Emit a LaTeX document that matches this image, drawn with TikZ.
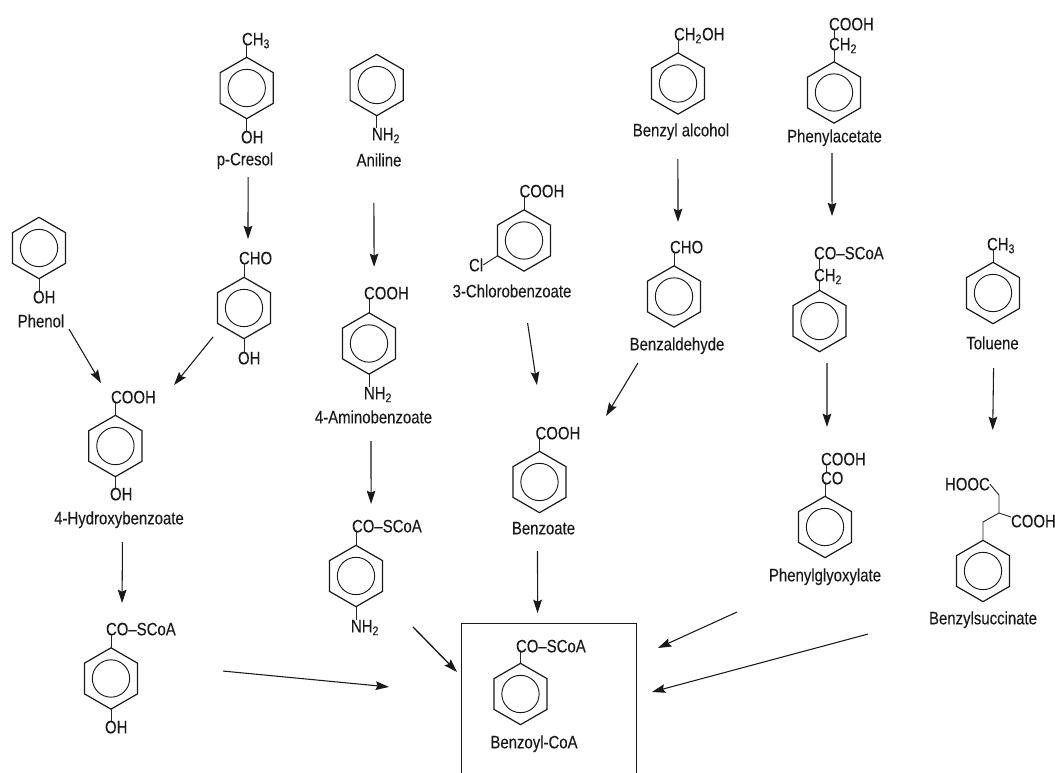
\documentclass[tikz,border=0pt]{standalone}
\usepackage{fontspec}
\setmainfont[FakeStretch=0.83, FakeBold=0.12]{Liberation Sans}
\usetikzlibrary{shapes.geometric, arrows.meta}

\begin{document}
\begin{tikzpicture}[
    x=0.75pt, y=-0.75pt,
    % Node styles
    ring/.style={
        regular polygon, regular polygon sides=6, shape border rotate=30,
        draw=black!90, line width=0.9pt, minimum size=46pt,
        inner sep=0pt, outer sep=0pt,
        path picture={\draw[black!90, line width=0.7pt] (path picture bounding box.center) circle[radius=14pt];}
    },
    group/.style={
        anchor=west, inner sep=0pt, outer sep=0pt, text height=9.5pt, text depth=0pt,
        font=\fontsize{13.5}{15}\selectfont, black!90
    },
    caption/.style={
        inner sep=0pt, outer sep=0pt, text height=9.5pt, text depth=0pt,
        font=\fontsize{13.5}{15}\selectfont, black!90
    },
    bond/.style={black!85, line width=0.7pt},
    arrow/.style={-{Stealth[length=10pt, width=6.5pt, inset=1.5pt]}, black!90, line width=0.8pt},
    frame/.style={black!90, line width=0.6pt}
]

\useasboundingbox (0,0) rectangle (1055,773);

% ============================================================
% Substrates and intermediates, column by column
% ============================================================

% -- Phenol --
\node[ring] (phenol) at (39,248) {};
\node[group] (phenol_oh) at (33,297) {OH};
\node[caption] (phenol_name) at (41,321) {Phenol};

% -- p-Cresol --
\node[ring] (cresol) at (246.7,88) {};
\node[group] (cresol_ch3) at (242,39) {CH\textsubscript{3}};
\node[group] (cresol_oh) at (241,137) {OH};
\node[caption] (cresol_name) at (245,159) {p-Cresol};

\node[ring] (hbald) at (244,308) {};
\node[group] (hbald_cho) at (239,258) {CHO};
\node[group] (hbald_oh) at (238,358) {OH};

% -- 4-Hydroxybenzoate --
\node[ring] (hbenz) at (115.4,446) {};
\node[group] (hbenz_cooh) at (111,397) {COOH};
\node[group] (hbenz_oh) at (110,494) {OH};
\node[caption] (hbenz_name) at (119,518) {4-Hydroxybenzoate};

\node[ring] (hbcoa) at (111,678.5) {};
\node[group] (hbcoa_co) at (106,629) {CO--SCoA};
\node[group] (hbcoa_oh) at (105,727) {OH};

% -- Aniline --
\node[ring] (aniline) at (376.7,85) {};
\node[group] (aniline_nh2) at (372,134) {NH\textsubscript{2}};
\node[caption] (aniline_name) at (379,160) {Aniline};

\node[ring] (abenz) at (369,343.5) {};
\node[group] (abenz_cooh) at (364,293) {COOH};
\node[group] (abenz_nh2) at (364,393) {NH\textsubscript{2}};
\node[caption] (abenz_name) at (373.5,417) {4-Aminobenzoate};

\node[ring] (abcoa) at (356,576) {};
\node[group] (abcoa_co) at (352,526) {CO--SCoA};
\node[group] (abcoa_nh2) at (351,626) {NH\textsubscript{2}};

% -- 3-Chlorobenzoate --
\node[ring] (chloro) at (524,240.5) {};
\node[group] (chloro_cooh) at (519.5,191) {COOH};
\node[group] (chloro_cl) at (469,265) {Cl};
\node[caption] (chloro_name) at (512,291) {3-Chlorobenzoate};

% -- Benzoate --
\node[ring] (benzoate) at (539.5,482) {};
\node[group] (benzoate_cooh) at (535.5,433) {COOH};
\node[caption] (benzoate_name) at (543.5,528) {Benzoate};

% -- Benzyl alcohol --
\node[ring] (balc) at (678,83.5) {};
\node[group] (balc_ch2oh) at (674,34) {CH\textsubscript{2}OH};
\node[caption] (balc_name) at (681,130) {Benzyl alcohol};

\node[ring] (bald) at (674,296.5) {};
\node[group] (bald_cho) at (670,247) {CHO};
\node[caption] (bald_name) at (677,344) {Benzaldehyde};

% -- Phenylacetate --
\node[ring] (pacet) at (834,92.5) {};
\node[group] (pacet_cooh) at (829,24) {COOH};
\node[group] (pacet_ch2) at (829,44) {CH\textsubscript{2}};
\node[caption] (pacet_name) at (834.5,136) {Phenylacetate};

\node[ring] (pacoa) at (819.5,321) {};
\node[group] (pacoa_co) at (814,253) {CO--SCoA};
\node[group] (pacoa_ch2) at (814,275) {CH\textsubscript{2}};

\node[ring] (pglyox) at (825,527) {};
\node[group] (pglyox_cooh) at (821,459) {COOH};
\node[group] (pglyox_co) at (821,478) {CO};
\node[caption] (pglyox_name) at (825,575) {Phenylglyoxylate};

% -- Toluene --
\node[ring] (toluene) at (993,293) {};
\node[group] (toluene_ch3) at (987,244) {CH\textsubscript{3}};
\node[caption] (toluene_name) at (992.5,343) {Toluene};

\node[ring] (bsucc) at (983,571) {};
\node[group] (bsucc_hooc) at (945,484) {HOOC};
\node[group] (bsucc_cooh) at (1011,521) {COOH};
\node[caption] (bsucc_name) at (983,618) {Benzylsuccinate};
\coordinate (bsucc_c1) at (999,495);
\coordinate (bsucc_c2) at (999,513);
\coordinate (bsucc_c3) at (983,522);

% -- Benzoyl-CoA, open frame --
\node[ring] (bcoa) at (520.5,694) {};
\node[group] (bcoa_co) at (516,646) {CO--SCoA};
\node[caption] (bcoa_name) at (534,742) {Benzoyl-CoA};
\coordinate (frame_bl) at (461,773);
\coordinate (frame_tl) at (461,623);
\coordinate (frame_tr) at (636,623);
\coordinate (frame_br) at (636,773);
\draw[frame] (frame_bl) -- (frame_tl) -- (frame_tr) -- (frame_br);

% ============================================================
% Bonds
% ============================================================

\draw[bond] (phenol.south) -- (phenol_oh.north -| phenol.south);
\draw[bond] (cresol.north) -- (cresol_ch3.south -| cresol.north);
\draw[bond] (cresol.south) -- (cresol_oh.north -| cresol.south);
\draw[bond] (hbald.north) -- (hbald_cho.south -| hbald.north);
\draw[bond] (hbald.south) -- (hbald_oh.north -| hbald.south);
\draw[bond] (hbenz.north) -- (hbenz_cooh.south -| hbenz.north);
\draw[bond] (hbenz.south) -- (hbenz_oh.north -| hbenz.south);
\draw[bond] (hbcoa.north) -- (hbcoa_co.south -| hbcoa.north);
\draw[bond] (hbcoa.south) -- (hbcoa_oh.north -| hbcoa.south);
\draw[bond] (aniline.south) -- (aniline_nh2.north -| aniline.south);
\draw[bond] (abenz.north) -- (abenz_cooh.south -| abenz.north);
\draw[bond] (abenz.south) -- (abenz_nh2.north -| abenz.south);
\draw[bond] (abcoa.north) -- (abcoa_co.south -| abcoa.north);
\draw[bond] (abcoa.south) -- (abcoa_nh2.north -| abcoa.south);
\draw[bond] (chloro.north) -- (chloro_cooh.south -| chloro.north);
\draw[bond] (chloro.210) -- (chloro_cl.east);
\draw[bond] (benzoate.north) -- (benzoate_cooh.south -| benzoate.north);
\draw[bond] (balc.north) -- (balc_ch2oh.south -| balc.north);
\draw[bond] (bald.north) -- (bald_cho.south -| bald.north);
\draw[bond] (pacet.north) -- (pacet_ch2.south -| pacet.north);
\draw[bond] ([xshift=4.2pt]pacet_cooh.south west) -- ([xshift=4.2pt]pacet_ch2.north west);
\draw[bond] (pacoa.north) -- (pacoa_ch2.south -| pacoa.north);
\draw[bond] ([xshift=4.2pt]pacoa_co.south west) -- ([xshift=4.2pt]pacoa_ch2.north west);
\draw[bond] (pglyox.north) -- (pglyox_co.south -| pglyox.north);
\draw[bond] ([xshift=4.2pt]pglyox_cooh.south west) -- ([xshift=4.2pt]pglyox_co.north west);
\draw[bond] (toluene.north) -- (toluene_ch3.south -| toluene.north);
\draw[bond] (bsucc_hooc.east) -- (bsucc_c1) -- (bsucc_c2) -- (bsucc_c3) -- (bsucc.north);
\draw[bond] (bsucc_c2) -- ([yshift=3pt]bsucc_cooh.west);
\draw[bond] (bcoa.north) -- (bcoa_co.south -| bcoa.north);

% ============================================================
% Arrows
% ============================================================

\draw[arrow] ([xshift=2.3pt, yshift=-8.8pt]cresol_name.south) -- ([xshift=3pt, yshift=28.7pt]hbald.north);
\draw[arrow] ([xshift=-3.8pt, yshift=-27.5pt]aniline_name.south) -- ([xshift=3.8pt, yshift=34.4pt]abenz.north);
\draw[arrow] ([xshift=21pt, yshift=-1.3pt]phenol_name.south) -- ([xshift=-10.8pt, yshift=24.2pt]hbenz.north);
\draw[arrow] ([xshift=-3.3pt, yshift=-10.2pt]hbald.210) -- ([xshift=44pt, yshift=22.7pt]hbenz.north);
\draw[arrow] ([xshift=2.6pt, yshift=-13.3pt]hbenz_name.south) -- ([xshift=8.3pt, yshift=33.6pt]hbcoa.north);
\draw[arrow] ([xshift=64pt, yshift=5.6pt]hbcoa.east) -- ([xshift=-78.7pt, yshift=5.3pt]bcoa.west);
\draw[arrow] ([xshift=-1.9pt, yshift=-13.3pt]abenz_name.south) -- ([xshift=11.3pt, yshift=31pt]abcoa.north);
\draw[arrow, line width=1pt] ([xshift=22.8pt, yshift=-26.7pt]abcoa.330) -- ([xshift=-27.7pt, yshift=16.5pt]bcoa.west);
\draw[arrow] ([xshift=11.7pt, yshift=-19.3pt]chloro_name.south) -- ([xshift=-1.9pt, yshift=49.7pt]benzoate.north);
\draw[arrow] ([xshift=-29.3pt, yshift=-9.5pt]bald_name.south) -- ([xshift=49.9pt, yshift=26.5pt]benzoate.north);
\draw[arrow] ([xshift=-2.3pt, yshift=-17pt]balc_name.south) -- ([xshift=3pt, yshift=32.9pt]bald.north);
\draw[arrow] ([xshift=-1.9pt, yshift=-8pt]pacet_name.south) -- ([xshift=9.4pt, yshift=55.7pt]pacoa.north);
\draw[arrow, line width=1pt] ([xshift=5.6pt, yshift=-8.5pt]pacoa.south) -- ([xshift=1.5pt, yshift=52pt]pglyox.north);
\draw[arrow] ([xshift=0.8pt, yshift=-14pt]toluene_name.south) -- ([xshift=7.3pt, yshift=82.7pt]bsucc.north);
\draw[arrow] ([xshift=-4.5pt, yshift=-12.5pt]benzoate_name.south) -- ([xshift=12.8pt, yshift=37.7pt]bcoa.north);
\draw[arrow] ([xshift=-66pt, yshift=-23pt]pglyox_name.south) -- ([xshift=83.2pt, yshift=34.5pt]bcoa.east);
\draw[arrow] ([xshift=-86.3pt, yshift=-7.3pt]bsucc_name.south) -- ([xshift=78.7pt, yshift=1.5pt]bcoa.east);

\end{tikzpicture}
\end{document}
